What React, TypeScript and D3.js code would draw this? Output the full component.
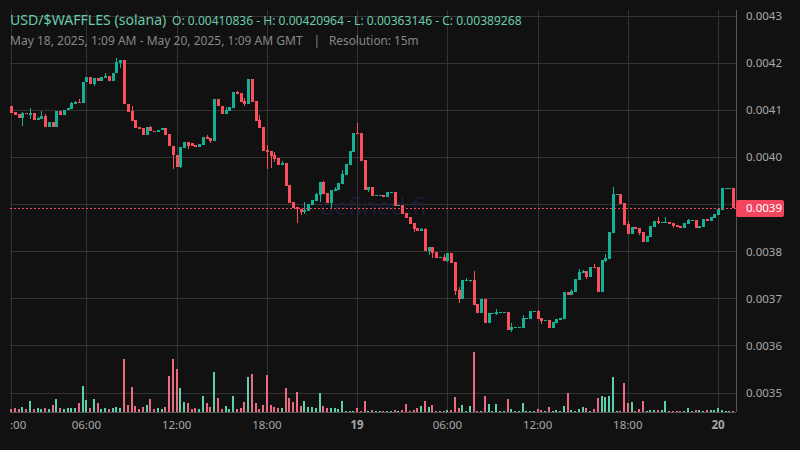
import { scaleLinear, scaleTime } from "d3";

// prices are in units of 0.0001 USD, one entry per 15m candle
const opens = [
  41.09,40.96,40.92,40.84,40.94,40.89,40.94,40.79,40.81,40.88,
  40.65,40.75,40.65,40.98,40.90,41.00,41.03,41.14,41.17,41.15,
  41.60,41.70,41.56,41.68,41.63,41.68,41.72,41.63,41.80,42.00,
  42.06,41.13,40.98,40.79,40.64,40.62,40.48,40.64,40.57,40.54,
  40.59,40.62,40.49,40.25,40.06,39.79,40.20,40.33,40.30,40.26,
  40.22,40.26,40.43,40.41,40.35,41.24,41.09,40.93,40.99,41.05,
  41.38,41.37,41.20,41.14,41.66,41.20,40.79,40.64,40.16,40.13,
  40.05,39.99,39.84,39.88,39.41,39.05,38.95,38.91,38.84,38.86,
  38.99,39.07,39.20,39.48,39.24,39.03,39.29,39.31,39.43,39.63,
  39.84,40.11,40.52,40.52,39.94,39.31,39.37,39.18,39.18,39.20,
  39.16,39.24,39.26,38.97,38.99,38.82,38.73,38.61,38.50,38.44,
  38.48,38.01,38.10,37.99,37.86,37.88,37.80,37.97,37.78,37.18,
  36.99,37.37,37.37,37.40,36.89,36.69,36.99,36.48,36.67,36.67,
  36.69,36.69,36.72,36.33,36.38,36.38,36.38,36.57,36.57,36.72,
  36.74,36.59,36.52,36.55,36.38,36.48,36.55,36.57,37.14,37.08,
  37.14,37.40,37.54,37.59,37.46,37.67,37.67,37.14,37.80,37.84,
  38.39,39.20,39.22,39.03,38.58,38.37,38.52,38.50,38.41,38.20,
  38.31,38.52,38.65,38.61,38.61,38.63,38.61,38.56,38.54,38.50,
  38.58,38.65,38.67,38.50,38.52,38.69,38.65,38.71,38.78,38.88,
  39.33,39.33,39.35,
];
const closes = [
  40.94,40.90,40.84,40.95,40.91,40.94,40.79,40.83,40.88,40.65,
  40.75,40.65,40.98,40.90,41.00,41.05,41.15,41.17,41.15,41.61,
  41.70,41.56,41.68,41.63,41.70,41.72,41.63,41.80,42.02,42.06,
  41.13,40.97,40.78,40.62,40.61,40.48,40.64,40.56,40.54,40.59,
  40.62,40.48,40.25,40.05,39.79,40.22,40.33,40.25,40.25,40.22,
  40.28,40.43,40.40,40.35,41.24,41.08,40.93,41.01,41.06,41.38,
  41.35,41.17,41.14,41.66,41.17,40.78,40.63,40.13,40.11,40.03,
  39.96,39.84,39.88,39.39,39.03,38.92,38.90,38.84,38.88,39.01,
  39.09,39.22,39.48,39.22,39.03,39.31,39.33,39.46,39.65,39.86,
  40.13,40.52,40.50,39.92,39.31,39.37,39.18,39.20,39.20,39.16,
  39.26,39.26,38.97,38.99,38.80,38.71,38.59,38.48,38.44,38.48,
  38.01,38.10,37.97,37.86,37.88,37.80,37.97,37.76,37.16,36.99,
  37.40,37.40,37.40,36.86,36.69,36.99,36.48,36.69,36.69,36.72,
  36.72,36.72,36.33,36.40,36.40,36.40,36.59,36.59,36.74,36.74,
  36.57,36.52,36.55,36.38,36.50,36.57,36.59,37.14,37.08,37.16,
  37.42,37.56,37.59,37.46,37.67,37.65,37.14,37.82,37.86,38.41,
  39.22,39.22,39.01,38.56,38.37,38.52,38.48,38.39,38.20,38.33,
  38.54,38.65,38.61,38.63,38.63,38.58,38.54,38.52,38.50,38.61,
  38.67,38.67,38.50,38.54,38.69,38.65,38.73,38.80,38.90,39.35,
  39.35,39.35,38.93,
];
const highs = [
  41.09,40.96,40.92,40.97,40.94,41.05,40.94,40.86,40.98,40.93,
  40.75,40.75,40.98,40.98,41.00,41.05,41.18,41.20,41.23,41.61,
  41.70,41.70,41.68,41.68,41.70,41.78,41.72,41.80,42.11,42.06,
  42.06,41.13,41.09,40.79,40.64,40.62,40.64,40.66,40.57,40.59,
  40.62,40.62,40.49,40.25,40.06,40.22,40.33,40.33,40.30,40.26,
  40.28,40.43,40.47,40.41,41.24,41.24,41.09,41.06,41.06,41.38,
  41.41,41.37,41.25,41.66,41.66,41.20,40.90,40.64,40.26,40.13,
  40.11,39.99,39.92,39.88,39.41,39.05,38.95,38.91,39.05,39.01,
  39.09,39.24,39.48,39.50,39.24,39.31,39.37,39.46,39.73,39.86,
  40.13,40.52,40.73,40.52,39.94,39.37,39.37,39.20,39.20,39.20,
  39.26,39.26,39.26,38.99,38.99,38.82,38.73,38.61,38.50,38.50,
  38.50,38.10,38.10,37.99,37.88,37.95,37.97,37.97,37.78,37.25,
  37.40,37.44,37.40,37.59,36.89,36.99,36.99,36.69,36.69,36.78,
  36.72,36.72,36.72,36.48,36.40,36.40,36.65,36.59,36.74,36.74,
  36.76,36.59,36.55,36.55,36.50,36.57,36.59,37.14,37.14,37.20,
  37.42,37.63,37.61,37.59,37.67,37.73,37.67,37.82,37.95,38.41,
  39.37,39.22,39.22,39.03,38.65,38.52,38.52,38.50,38.41,38.33,
  38.54,38.65,38.73,38.63,38.73,38.63,38.61,38.56,38.54,38.61,
  38.69,38.67,38.67,38.54,38.69,38.69,38.73,38.80,38.90,39.35,
  39.35,39.35,39.35,
];
const lows = [
  40.94,40.90,40.84,40.66,40.91,40.81,40.79,40.79,40.81,40.65,
  40.65,40.65,40.65,40.90,40.90,41.00,41.03,41.14,41.15,41.15,
  41.60,41.56,41.52,41.63,41.63,41.68,41.63,41.63,41.80,41.90,
  41.13,40.97,40.78,40.62,40.61,40.48,40.48,40.56,40.54,40.54,
  40.59,40.48,40.25,39.75,39.79,39.77,40.20,40.18,40.25,40.22,
  40.22,40.26,40.40,40.30,40.35,41.08,40.91,40.93,40.99,41.05,
  41.35,41.17,41.10,41.14,41.17,40.78,40.63,40.13,39.75,39.78,
  39.90,39.84,39.84,39.39,39.03,38.92,38.61,38.78,38.80,38.86,
  38.99,39.07,39.05,39.22,39.03,38.90,39.29,39.31,39.43,39.63,
  39.84,40.11,40.50,39.92,39.31,39.26,39.18,39.18,39.18,39.16,
  39.16,39.24,38.97,38.97,38.80,38.71,38.59,38.41,38.44,38.44,
  38.01,37.93,37.86,37.86,37.86,37.80,37.78,37.76,37.08,36.91,
  36.99,37.37,37.35,36.86,36.69,36.69,36.48,36.48,36.67,36.65,
  36.69,36.69,36.33,36.29,36.38,36.38,36.38,36.57,36.57,36.72,
  36.57,36.46,36.52,36.38,36.38,36.48,36.55,36.57,37.08,37.08,
  37.14,37.40,37.54,37.42,37.46,37.65,37.14,37.14,37.78,37.84,
  38.39,39.20,39.01,38.56,38.37,38.37,38.48,38.35,38.20,38.20,
  38.31,38.52,38.58,38.61,38.61,38.58,38.50,38.52,38.50,38.50,
  38.58,38.65,38.50,38.50,38.52,38.65,38.65,38.71,38.78,38.88,
  39.33,39.33,38.92,
];
const volumes = [
  9,12,8,15,9,33,9,12,8,12,
  9,21,39,12,9,12,12,12,27,78,
  36,12,39,27,9,12,9,12,15,12,
  159,21,75,18,9,15,21,39,9,12,
  9,15,108,159,129,72,30,27,9,12,
  9,48,27,15,120,42,9,18,9,48,
  9,12,30,105,114,27,9,21,111,21,
  15,12,12,72,42,30,60,18,33,15,
  15,12,57,18,12,12,12,9,33,3,
  3,3,12,3,33,3,6,3,3,3,
  3,3,6,3,6,24,3,6,12,18,
  33,15,21,3,3,3,6,6,45,12,
  21,3,18,180,3,3,48,24,3,24,
  3,3,39,9,3,3,27,3,3,3,
  9,6,3,15,3,6,3,18,57,6,
  3,9,15,12,3,9,42,48,45,48,
  105,3,3,87,27,30,3,9,33,3,
  6,6,6,6,33,3,3,3,3,3,
  12,3,6,6,3,6,6,6,12,6,
  3,3,3,
];

const priceTicks = [35, 36, 37, 38, 39, 40, 41, 42, 43];
const lastPrice = 38.9268;

const utc = (d: number, h: number) => new Date(Date.UTC(2025, 4, d, h, 0));
const timeTicks = [
  { t: utc(18, 1), label: ":00" },
  { t: utc(18, 6), label: "06:00" },
  { t: utc(18, 12), label: "12:00" },
  { t: utc(18, 18), label: "18:00" },
  { t: utc(19, 0), label: "19", bold: true },
  { t: utc(19, 6), label: "06:00" },
  { t: utc(19, 12), label: "12:00" },
  { t: utc(19, 18), label: "18:00" },
  { t: utc(20, 0), label: "20", bold: true },
];

const width = 800;
const height = 450;
const left = 10;
const right = 736;
const top = 10;
const bottom = 412;
const font = "'Noto Sans', sans-serif";

const colors = {
  bg: "#111111",
  grid: "#333333",
  axis: "#555555",
  up: "#14b196",
  down: "#fb4f5c",
  volUp: "#5ccfac",
  volDown: "#ec6a82",
  title: "#6bc9a9",
  sub: "#878787",
  tick: "#a8a8a8",
  last: "#f4455f",
};

const x = scaleTime().domain([utc(18, 1), utc(20, 1)]).range([11.2, 733.1]);
const y = scaleLinear().domain([43, 35]).range([16, 393]);
const yVol = scaleLinear().domain([0, 180]).range([bottom, 352]);
const candleTime = (i: number) => new Date(utc(18, 1).getTime() + i * 15 * 60 * 1000);

export default function App() {
  return (
    <svg
      width={width}
      height={height}
      style={{ position: "absolute", left: 0, top: 0, background: colors.bg, fontFamily: font }}
    >
      {priceTicks.map((p) => (
        <line key={p} x1={left} x2={right} y1={Math.floor(y(p)) + 0.5} y2={Math.floor(y(p)) + 0.5} stroke={colors.grid} />
      ))}
      {timeTicks.map((d) => (
        <line
          key={d.t.getTime()}
          x1={Math.round(x(d.t)) + 0.5}
          x2={Math.round(x(d.t)) + 0.5}
          y1={top}
          y2={bottom}
          stroke={colors.grid}
        />
      ))}

      <text x={373} y={215} textAnchor="middle" fontSize={24} fill="#1b1b33">
        defined.fi
      </text>

      {volumes.map((v, i) => {
        const up = closes[i] >= opens[i];
        const px = Math.round(x(candleTime(i)));
        return (
          <rect
            key={i}
            x={px - 1}
            y={Math.round(yVol(v))}
            width={2}
            height={bottom - Math.round(yVol(v))}
            fill={up ? colors.volUp : colors.volDown}
          />
        );
      })}

      {opens.map((o, i) => {
        const c = closes[i];
        const up = c >= o;
        const fill = up ? colors.up : colors.down;
        const px = Math.round(x(candleTime(i)));
        const bodyTop = Math.round(y(Math.max(o, c)));
        const bodyBottom = Math.round(y(Math.min(o, c)));
        return (
          <g key={i} fill={fill}>
            <rect
              x={px}
              y={Math.round(y(highs[i]))}
              width={1}
              height={Math.max(1, Math.round(y(lows[i])) - Math.round(y(highs[i])))}
            />
            <rect x={px - 1} y={bodyTop} width={3} height={Math.max(1, bodyBottom - bodyTop)} />
          </g>
        );
      })}

      <line
        x1={left}
        x2={right}
        y1={Math.round(y(lastPrice)) + 0.5}
        y2={Math.round(y(lastPrice)) + 0.5}
        stroke={colors.last}
        strokeDasharray="2 2"
      />

      <line x1={right + 0.5} x2={right + 0.5} y1={top} y2={bottom} stroke={colors.axis} />
      <line x1={left} x2={right} y1={bottom + 0.5} y2={bottom + 0.5} stroke={colors.axis} />

      {priceTicks
        .filter((p) => p !== 39)
        .map((p) => (
          <text key={p} x={746} y={y(p) + 4} fontSize={11.5} fill={colors.tick}>
            {(p / 10000).toFixed(4)}
          </text>
        ))}
      <rect x={736} y={200} width={48} height={17} rx={2} fill={colors.last} />
      <text x={746} y={y(lastPrice) + 4.5} fontSize={11.5} fill="#ffffff">
        {(lastPrice / 10000).toFixed(4)}
      </text>

      {timeTicks.map((d, i) => (
        <text
          key={d.t.getTime()}
          x={i === 0 ? left : x(d.t)}
          y={429}
          fontSize={11.5}
          fontWeight={d.bold ? 700 : 400}
          textAnchor={i === 0 ? "start" : "middle"}
          fill={colors.tick}
        >
          {d.label}
        </text>
      ))}

      <text x={10} y={25} fontSize={14.1} fill={colors.title}>
        USD/$WAFFLES (solana)
      </text>
      <text x={172} y={25} fontSize={12.07} fill={colors.title}>
        O: 0.00410836 - H: 0.00420964 - L: 0.00363146 - C: 0.00389268
      </text>
      <text x={10} y={45} fontSize={12.04} fill={colors.sub}>
        {"May 18, 2025, 1:09 AM - May 20, 2025, 1:09 AM GMT"}
      </text>
      <text x={313.5} y={45} fontSize={12} fill={colors.sub}>
        |
      </text>
      <text x={329} y={45} fontSize={11.8} fill={colors.sub}>
        Resolution: 15m
      </text>
    </svg>
  );
}
